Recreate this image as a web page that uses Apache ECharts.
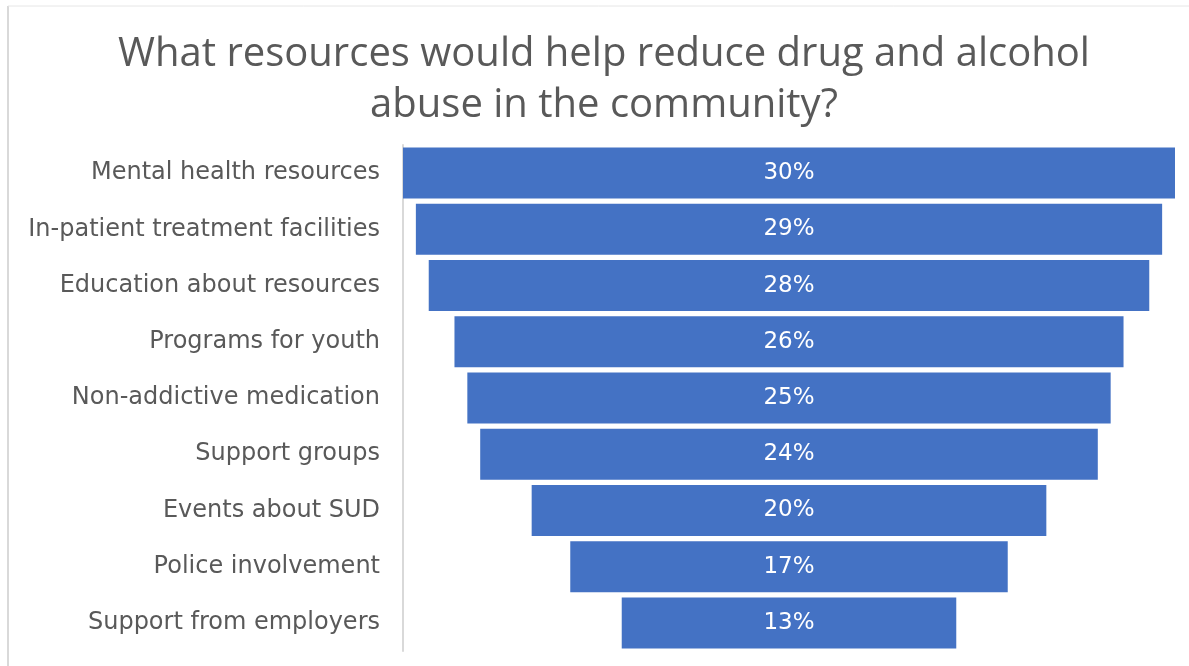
<!DOCTYPE html>
<html>
<head>
<meta charset="utf-8">
<script src="https://cdn.jsdelivr.net/npm/echarts@6/dist/echarts.min.js"></script>
<style>
  html, body { margin: 0; padding: 0; background: #fff; }
  #chart { width: 1189px; height: 666px; }
</style>
</head>
<body>
<div id="chart"></div>
<script>
// Survey answers, in the order they appear from top to bottom
const categories = [
  'Mental health resources',
  'In-patient treatment facilities',
  'Education about resources',
  'Programs for youth',
  'Non-addictive medication',
  'Support groups',
  'Events about SUD',
  'Police involvement',
  'Support from employers'
];
// Share of respondents (%)
const values = [30, 29, 28, 26, 25, 24, 20, 17, 13];
const maxValue = 30;

// Invisible spacer that centres each bar, giving the funnel shape
const spacer = values.map(v => (maxValue - v) / 2);

const chart = echarts.init(document.getElementById('chart'));
const font = '"DejaVu Sans", sans-serif';

chart.setOption({
  backgroundColor: '#ffffff',
  animation: false,
  title: {
    text: 'What resources would help reduce drug and alcohol\nabuse in the community?',
    left: 599,
    textAlign: 'center',
    top: 24,
    textStyle: {
      color: '#595959',
      fontFamily: '"Open Sans", sans-serif',
      fontSize: 40,
      fontWeight: 'normal',
      lineHeight: 51
    }
  },
  graphic: [
    { type: 'line', shape: { x1: 8, y1: 6, x2: 8, y2: 666 }, style: { stroke: '#d9d9d9', lineWidth: 2 } },
    { type: 'line', shape: { x1: 8, y1: 6, x2: 1189, y2: 6 }, style: { stroke: '#e6e6e6', lineWidth: 1 } }
  ],
  grid: { left: 403, right: 14, top: 145, bottom: 15 },
  xAxis: {
    type: 'value',
    min: 0,
    max: maxValue,
    show: false
  },
  yAxis: {
    type: 'category',
    data: categories,
    inverse: true,
    axisLine: { show: true, lineStyle: { color: '#d9d9d9', width: 2 } },
    axisTick: { show: false },
    axisLabel: {
      color: '#595959',
      fontFamily: font,
      fontSize: 24,
      margin: 23
    }
  },
  series: [
    {
      type: 'bar',
      stack: 'funnel',
      data: spacer,
      barWidth: 51,
      itemStyle: { color: 'transparent' },
      silent: true
    },
    {
      type: 'bar',
      stack: 'funnel',
      data: values,
      barWidth: 51,
      itemStyle: { color: '#4472C4' },
      label: {
        show: true,
        position: 'inside',
        color: '#ffffff',
        fontFamily: font,
        fontSize: 23,
        formatter: p => p.value + '%'
      }
    }
  ]
});
</script>
</body>
</html>
